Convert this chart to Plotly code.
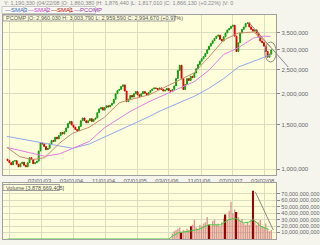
import pandas as pd
import plotly.graph_objects as go

# ---------------- data ----------------
candle_dates = pd.date_range('2002-10-14', periods=145, freq='14D')

close_k = [1080, 1060, 1040, 1075, 1080, 1045, 1020, 1050, 1065, 1035,
           1020, 1060, 1110, 1090, 1050, 1060, 1075, 1180, 1270, 1260,
           1230, 1195, 1210, 1260, 1300, 1290, 1340, 1320, 1360, 1400,
           1380, 1410, 1460, 1520, 1550, 1500, 1470, 1440, 1425, 1480,
           1560, 1600, 1560, 1530, 1560, 1590, 1550, 1580, 1600, 1680,
           1740, 1760, 1720, 1760, 1790, 1770, 1800, 1830, 1900, 2000,
           2060, 2080, 2140, 2170, 2050, 1860, 1900, 1970, 1940, 2000,
           2040, 1980, 1950, 2000, 2040, 2010, 1980, 2020, 2060, 2090,
           2110, 2100, 2080, 2110, 2080, 2050, 2070, 2100, 2060, 2040,
           2080, 2150, 2300, 2480, 2600, 2300, 2080, 2180, 2300, 2260,
           2350, 2320, 2420, 2520, 2620, 2700, 2760, 2820, 2900, 3000,
           3100, 3180, 3260, 3330, 3400, 3430, 3300, 3250, 3380, 3500,
           3600, 3650, 3720, 3760, 3400, 2950, 3200, 3500, 3620, 3700,
           3820, 3840, 3700, 3620, 3560, 3600, 3500, 3380, 3250, 3200,
           3100, 2950, 2800, 2880, 2995]
first_open_k = 1095

volume_b = [0] * 90 + [
    8, 12, 14, 16, 18, 10, 14, 12, 16, 14,
    20, 22, 30, 18, 16, 22, 20, 24, 26, 34,
    22, 20, 28, 30, 22, 24, 20, 26, 32, 38,
    30, 44, 58, 40, 46, 42, 34, 28, 31, 24,
    22, 26, 22, 30, 75, 28, 22, 26, 30, 20,
    18, 24, 16, 12, 14]
dark_volume_idx = [95, 100, 110, 119, 125, 134]

sma_dates = ['2002-10-09', '2003-01-16', '2003-04-25', '2003-07-25', '2003-11-16',
             '2004-02-23', '2004-07-01', '2004-10-23', '2005-02-14', '2005-05-01',
             '2005-09-30', '2005-12-15', '2006-05-16', '2006-09-07', '2006-12-30',
             '2007-04-23', '2007-08-15', '2007-12-07', '2008-02-21', '2008-04-14']
sma3_k = [1350, 1320, 1290, 1265, 1235, 1210, 1260, 1340, 1430, 1490,
          1620, 1700, 1840, 1950, 2100, 2300, 2560, 2700, 2800, 2860]
sma2_k = [1220, 1185, 1150, 1125, 1150, 1210, 1290, 1460, 1600, 1690,
          1860, 1940, 2100, 2230, 2480, 2870, 3060, 3340, 3400, 3390]
sma1_k = [1220, 1120, 1090, 1110, 1270, 1390, 1470, 1610, 1840, 1890,
          1980, 2070, 2270, 2420, 2800, 3280, 3500, 3530, 3280, 3080]

vol_sma_dates = ['2002-10-14', '2006-03-01', '2006-03-24', '2006-05-16', '2006-07-31',
                 '2006-10-15', '2006-12-30', '2007-03-31', '2007-05-31', '2007-07-23',
                 '2007-09-22', '2007-10-30', '2007-12-07', '2008-01-29', '2008-03-30']
vol_sma_b = [0, 0, 4, 10, 12, 15, 22, 22, 30, 32, 25, 26, 30, 20, 15]

x_tick_dates = ['2002-11-01', '2003-07-01', '2004-03-01', '2004-11-01', '2005-07-01',
                '2006-03-01', '2006-11-01', '2007-07-02', '2008-03-02']
x_tick_text = ['11/01/02', '07/01/03', '03/01/04', '11/01/04', '07/01/05',
               '03/01/06', '11/01/06', '07/02/07', '03/02/08']
price_ticks = [1000000, 1500000, 2000000, 2500000, 3000000, 3500000]
price_tick_text = ['1,000,000', '1,500,000', '2,000,000', '2,500,000', '3,000,000', '3,500,000']
vol_ticks = [10e9, 20e9, 30e9, 40e9, 50e9, 60e9, 70e9]
vol_tick_text = ['10,000,000,000', '20,000,000,000', '30,000,000,000', '40,000,000,000',
                 '50,000,000,000', '60,000,000,000', '70,000,000,000']

# ---------------- derived ----------------
close = [v * 1000 for v in close_k]
opens = [first_open_k * 1000] + close[:-1]
highs = [max(o, c) for o, c in zip(opens, close)]
lows = [min(o, c) for o, c in zip(opens, close)]
volume = [v * 1e9 for v in volume_b]
vol_colors = ['#9a0000' if i in dark_volume_idx else 'rgba(205,120,120,0.75)'
              for i in range(len(volume))]

W, H = 320, 245
def px(x):
    return x / W
def py(y):
    return 1 - y / H

fig = go.Figure()

fig.add_trace(go.Scatter(x=sma_dates, y=[v * 1000 for v in sma3_k], mode='lines',
                         line=dict(color='#8fa8ec', width=1), xaxis='x', yaxis='y'))
fig.add_trace(go.Scatter(x=sma_dates, y=[v * 1000 for v in sma2_k], mode='lines',
                         line=dict(color='#e27de2', width=1), xaxis='x', yaxis='y'))
fig.add_trace(go.Scatter(x=sma_dates, y=[v * 1000 for v in sma1_k], mode='lines',
                         line=dict(color='#c98a6a', width=1), xaxis='x', yaxis='y'))

fig.add_trace(go.Candlestick(x=candle_dates, open=opens, high=highs, low=lows, close=close,
                             increasing=dict(line=dict(color='#10a010', width=1), fillcolor='#10a010'),
                             decreasing=dict(line=dict(color='#e00000', width=1), fillcolor='#e00000'),
                             whiskerwidth=0, xaxis='x', yaxis='y'))

fig.add_trace(go.Bar(x=candle_dates, y=volume, marker=dict(color=vol_colors, line=dict(width=0)),
                     xaxis='x2', yaxis='y2'))
fig.add_trace(go.Scatter(x=vol_sma_dates, y=[v * 1e9 for v in vol_sma_b], mode='lines',
                         line=dict(color='#44cc44', width=1), xaxis='x2', yaxis='y2'))

grid = '#dcdcc0'
axfont = dict(family='Liberation Sans, Arial', size=6, color='#666666')
xr = ['2002-09-09', '2008-05-29']

fig.update_layout(
    width=W, height=H, margin=dict(l=0, r=0, t=0, b=0),
    paper_bgcolor='#f5f5ee', plot_bgcolor='#fefedb',
    showlegend=False, bargap=0.25,
    xaxis=dict(domain=[px(3), px(278)], range=xr, type='date', anchor='y',
               tickvals=x_tick_dates, ticktext=x_tick_text, tickfont=axfont,
               showgrid=True, gridcolor=grid, gridwidth=1, ticks='', ticklabelshift=-2,
               showline=True, mirror=True, linecolor='#a0a0a0', linewidth=1,
               rangeslider=dict(visible=False), zeroline=False),
    yaxis=dict(domain=[py(175), py(15)], type='log', range=[5.976, 6.616], side='right',
               tickvals=price_ticks, ticktext=price_tick_text, tickfont=axfont,
               ticks='outside', ticklen=3, tickcolor='#888888',
               showgrid=True, gridcolor=grid, anchor='x',
               showline=True, mirror=True, linecolor='#a0a0a0', linewidth=1, zeroline=False),
    xaxis2=dict(domain=[px(3), px(278)], range=xr, type='date', anchor='y2', matches='x',
                tickvals=x_tick_dates, showticklabels=False, showgrid=True, gridcolor=grid,
                showline=True, mirror=True, linecolor='#a0a0a0', linewidth=1, zeroline=False),
    yaxis2=dict(domain=[py(239), py(183)], range=[0, 87e9], side='right', anchor='x2',
                tickvals=vol_ticks, ticktext=vol_tick_text,
                tickfont=dict(family='Liberation Sans, Arial', size=5.5, color='#666666'),
                ticks='outside', ticklen=3, tickcolor='#888888',
                showgrid=True, gridcolor=grid,
                showline=True, mirror=True, linecolor='#a0a0a0', linewidth=1, zeroline=False),
)

small = dict(family='Liberation Sans, Arial', size=5.5, color='#8a8a8a')
fig.add_annotation(x=px(2), y=py(3.5), xref='paper', yref='paper', xanchor='left', yanchor='middle',
                   text='Y: 1,190,330 (04/22/08 |O: 1,860,380 |H: 1,876,440 |L: 1,817,010 |C: 1,866,130 (+0.22%) |V: 0',
                   showarrow=False, font=small)

legend_items = [('SMA3', '#3366cc', 2, 24), ('SMA2', '#cc33cc', 25, 47),
                ('SMA1', '#cc0000', 48, 70), ('PCOMP', '#9933aa', 71, 96)]
for name, col, x0, x1 in legend_items:
    fig.add_shape(type='rect', xref='paper', yref='paper', x0=px(x0), x1=px(x1),
                  y0=py(13.5), y1=py(6.5), line=dict(color='#c8c8c8', width=1), fillcolor='#fafaf2')
    fig.add_annotation(x=px(x0 + 1), y=py(10), xref='paper', yref='paper', xanchor='left',
                       yanchor='middle', text='—' + name, showarrow=False,
                       font=dict(family='Liberation Sans, Arial', size=6, color=col))

fig.add_shape(type='rect', xref='paper', yref='paper', x0=px(3), x1=px(176), y0=py(21), y1=py(15),
              line=dict(color='#a0a0a0', width=1), fillcolor='#fefedb')
fig.add_annotation(x=px(4), y=py(18), xref='paper', yref='paper', xanchor='left', yanchor='middle',
                   text='PCOMP |O: 2,960,030 H: 3,003,790 L: 2,959,590 C: 2,994,670 (+0.97%)',
                   showarrow=False, font=dict(family='Liberation Sans, Arial', size=5.5, color='#555555'))

fig.add_shape(type='rect', xref='paper', yref='paper', x0=px(3), x1=px(60), y0=py(190.5), y1=py(184.5),
              line=dict(color='#a0a0a0', width=1), fillcolor='#fefedb')
fig.add_annotation(x=px(4), y=py(187.5), xref='paper', yref='paper', xanchor='left', yanchor='middle',
                   text='Volume [3,878,669,405]', showarrow=False,
                   font=dict(family='Liberation Sans, Arial', size=5.5, color='#555555'))

# hand-drawn trend annotations
fig.add_shape(type='line', xref='paper', yref='paper', x0=px(250), y0=py(22), x1=px(290), y1=py(67),
              line=dict(color='#888888', width=1))
fig.add_shape(type='circle', xref='paper', yref='paper', x0=px(266.5), x1=px(278), y0=py(42), y1=py(62),
              line=dict(color='#888888', width=1))
fig.add_shape(type='line', xref='paper', yref='paper', x0=px(257), y0=py(192), x1=px(275), y1=py(230),
              line=dict(color='#888888', width=1))

fig.write_html('out.html')
